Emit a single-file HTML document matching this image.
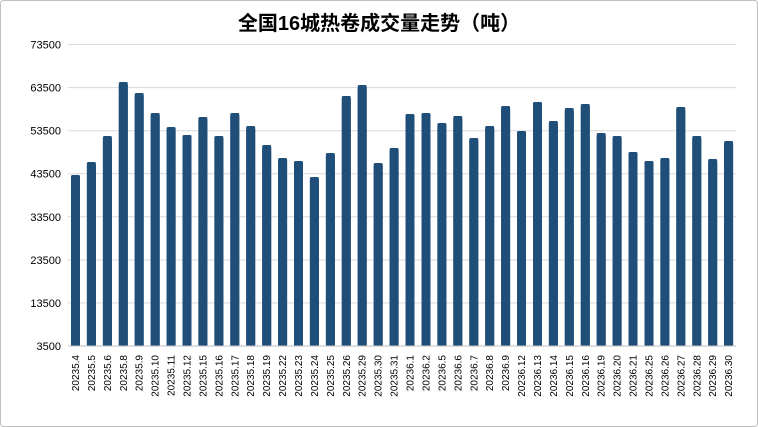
<!DOCTYPE html>
<html><head><meta charset="utf-8"><style>
body{margin:0;background:#fff;}
svg{display:block;font-family:"Liberation Sans","Noto Sans CJK SC",sans-serif;}
</style></head><body>
<svg width="758" height="427" viewBox="0 0 758 427" xmlns="http://www.w3.org/2000/svg">
<rect x="0.5" y="0.5" width="757" height="426" rx="3" fill="#fff" stroke="#bfbfbf"/>
<text x="379" y="30" text-anchor="middle" font-size="20" font-weight="bold" fill="#000">全国16城热卷成交量走势（吨）</text>
<g id="grid" stroke="#d9d9d9" stroke-width="1"></g>
<g id="ylab" font-size="11" fill="#000" text-anchor="end"></g>
<g id="bars" fill="#1f4e79"></g>
<line x1="68" y1="346" x2="736" y2="346" stroke="#bfbfbf"/>
<g id="xlab" font-size="10" fill="#000"></g>
</svg>
<script>
var ns="http://www.w3.org/2000/svg";
function el(t,a,p,txt){var e=document.createElementNS(ns,t);for(var k in a)e.setAttribute(k,a[k]);if(txt)e.textContent=txt;document.getElementById(p).appendChild(e);}
for(var i=0;i<8;i++){var y=346-i*43.07;var v=3500+i*10000;
 if(i>0)el("line",{x1:68,x2:736,y1:y.toFixed(1),y2:y.toFixed(1)},"grid");
 el("text",{x:61,y:(y+4).toFixed(1)},"ylab",String(v));}
var labs=["5.4","5.5","5.6","5.8","5.9","5.10","5.11","5.12","5.15","5.16","5.17","5.18","5.19","5.22","5.23","5.24","5.25","5.26","5.29","5.30","5.31","6.1","6.2","6.5","6.6","6.7","6.8","6.9","6.12","6.13","6.14","6.15","6.16","6.19","6.20","6.21","6.25","6.26","6.27","6.28","6.29","6.30"];
var tops=[175,162,136,82,93,113,127,135,117,136,113,126,145,158,161,177,153,96,85,163,148,114,113,123,116,138,126,106,131,102,121,108,104,133,136,152,161,158,107,136,159,141];
for(var i=0;i<42;i++){var cx=75.5+i*15.93;
 el("rect",{x:(cx-4.5).toFixed(1),y:tops[i],width:9,height:346-tops[i],rx:1.5},"bars");
 el("rect",{x:(cx-4.5).toFixed(1),y:tops[i]+3,width:9,height:343-tops[i]},"bars");
 el("text",{x:0,y:0,transform:"translate("+(cx+3.5).toFixed(1)+",355) rotate(-90)","text-anchor":"end"},"xlab","2023"+labs[i]);}
</script>
</body></html>
